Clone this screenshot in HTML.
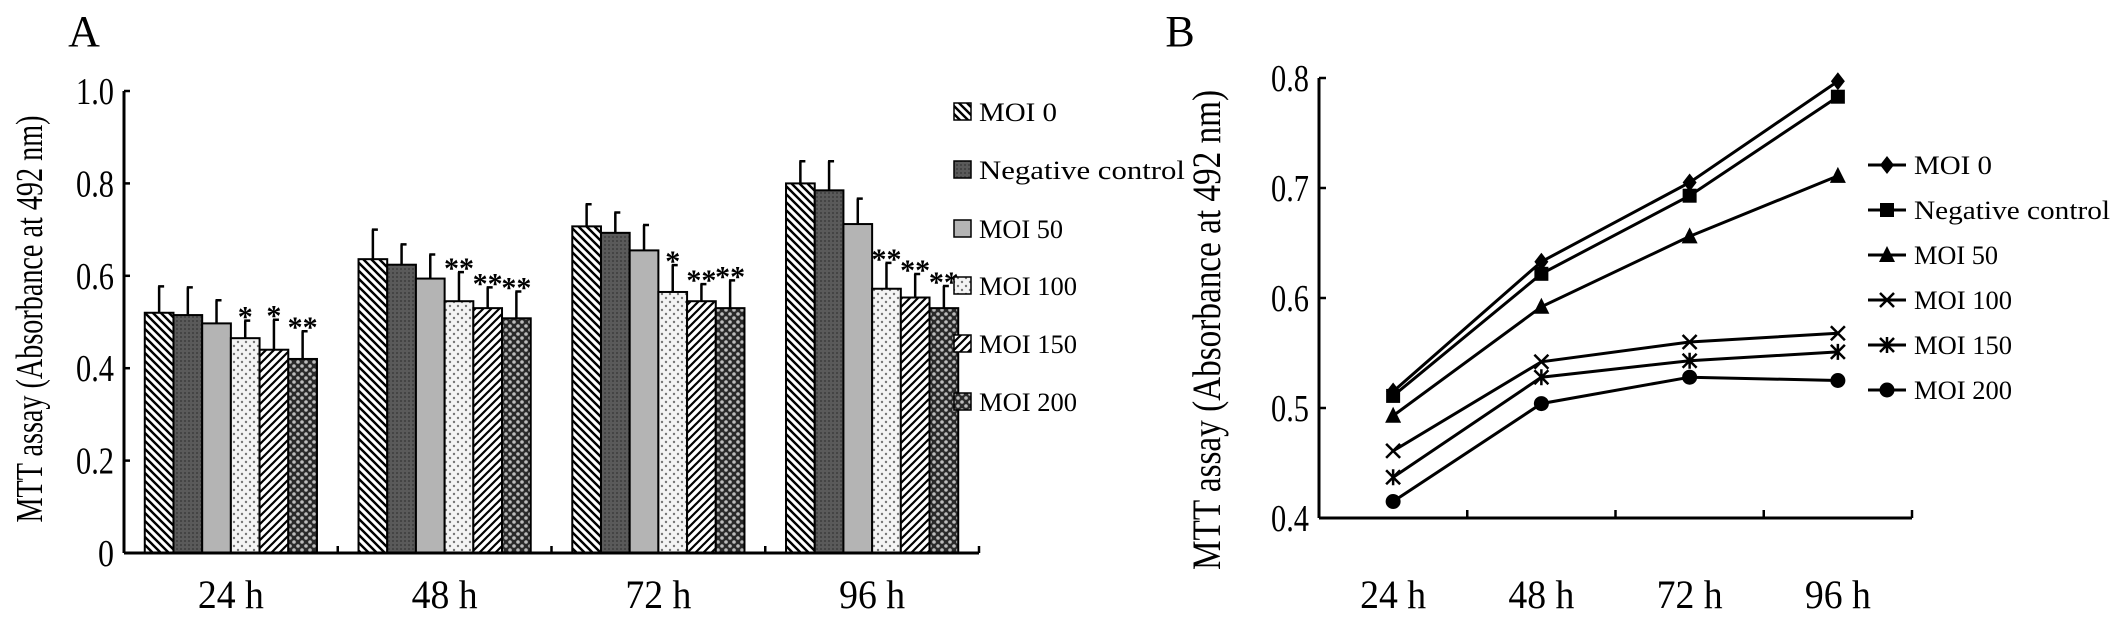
<!DOCTYPE html>
<html><head><meta charset="utf-8"><style>
html,body{margin:0;padding:0;background:#fff;}
svg{display:block;font-family:"Liberation Serif",serif;}
</style></head><body>
<svg id="fig" width="2126" height="623" viewBox="0 0 2126 623" xmlns="http://www.w3.org/2000/svg">
<defs>
<pattern id="p0" width="8" height="8" patternUnits="userSpaceOnUse"><rect width="8" height="8" fill="#fff"/><path d="M-2,-2 L10,10 M-2,6 L2,10 M6,-2 L10,2" stroke="#000" stroke-width="2.4"/></pattern>
<pattern id="p1" width="4" height="4" patternUnits="userSpaceOnUse"><rect width="4" height="4" fill="#5a5a5a"/><rect width="2" height="2" fill="#444"/></pattern>
<pattern id="p2" width="4" height="4" patternUnits="userSpaceOnUse"><rect width="4" height="4" fill="#b4b4b4"/></pattern>
<pattern id="p3" width="8" height="8" patternUnits="userSpaceOnUse"><rect width="8" height="8" fill="#f4f4f4"/><circle cx="2" cy="2" r="1.2" fill="#777"/><circle cx="6" cy="6" r="1.2" fill="#777"/></pattern>
<pattern id="p4" width="8" height="8" patternUnits="userSpaceOnUse"><rect width="8" height="8" fill="#fff"/><path d="M-2,10 L10,-2 M-2,2 L2,-2 M6,10 L10,6" stroke="#000" stroke-width="2.2"/></pattern>
<pattern id="p5" width="8" height="8" patternUnits="userSpaceOnUse"><rect width="8" height="8" fill="#2a2a2a"/><circle cx="2" cy="2" r="1.8" fill="#bbb"/><circle cx="6" cy="6" r="1.8" fill="#bbb"/></pattern>
</defs>
<g id="A"></g>
<g id="B"></g>
</svg>
<script>
// ---- Chart A data ----
const catsA = ["24 h","48 h","72 h","96 h"];
const seriesNamesA = ["MOI 0","Negative control","MOI 50","MOI 100","MOI 150","MOI 200"];
const meanMOI0 = [0.52,0.636,0.707,0.80];
const meanNeg = [0.515,0.624,0.693,0.785];
const meanMOI50 = [0.497,0.594,0.655,0.712];
const meanMOI100 = [0.465,0.545,0.565,0.572];
const meanMOI150 = [0.44,0.53,0.545,0.553];
const meanMOI200 = [0.42,0.508,0.53,0.53];
const errMOI0 = [0.057,0.064,0.048,0.048];
const errNeg = [0.06,0.044,0.044,0.063];
const errMOI50 = [0.05,0.052,0.055,0.055];
const errMOI100 = [0.038,0.063,0.058,0.056];
const errMOI150 = [0.065,0.045,0.037,0.051];
const errMOI200 = [0.06,0.058,0.06,0.048];
const starsA = [["","","","*","*","**"],["","","","**","**","**"],["","","","*","**","**"],["","","","**","**","**"]];
const ticksA = [0,0.2,0.4,0.6,0.8,1.0];
const tickLabelsA = ["0","0.2","0.4","0.6","0.8","1.0"];
// ---- Chart B data ----
const catsB = ["24 h","48 h","72 h","96 h"];
const lineMOI0 = [0.515,0.633,0.705,0.797];
const lineNeg = [0.511,0.622,0.693,0.783];
const lineMOI50 = [0.493,0.592,0.656,0.711];
const lineMOI100 = [0.461,0.542,0.560,0.568];
const lineMOI150 = [0.437,0.528,0.543,0.551];
const lineMOI200 = [0.415,0.504,0.528,0.525];
const ticksB = [0.4,0.5,0.6,0.7,0.8];
const tickLabelsB = ["0.4","0.5","0.6","0.7","0.8"];

const NS="http://www.w3.org/2000/svg";
function mk(parent,tag,attrs,text){const e=document.createElementNS(NS,tag);for(const k in attrs)e.setAttribute(k,attrs[k]);if(text!==undefined)e.textContent=text;parent.appendChild(e);return e;}

// ---- Chart A ----
(function(){
const g=document.getElementById('A');
const x0=124,x1=979,y0=553,yTop=91;
const yA=v=>y0-(v/1.0)*(y0-yTop);
const band=(x1-x0)/catsA.length;
const means=[meanMOI0,meanNeg,meanMOI50,meanMOI100,meanMOI150,meanMOI200];
const errs=[errMOI0,errNeg,errMOI50,errMOI100,errMOI150,errMOI200];
const bw=28.7,pad=(band-bw*6)/2;
let t=mk(g,'text',{x:84,y:46,'font-size':44,'text-anchor':'middle'},'A');

catsA.forEach((c,i)=>{
  for(let s=0;s<6;s++){
    const bx=x0+i*band+pad+s*bw, v=means[s][i];
    const r=mk(g,'rect',{x:bx,y:yA(v),width:bw,height:y0-yA(v),fill:'url(#p'+s+')',stroke:'#000','stroke-width':2});
    
    
    const cx=bx+bw/2, et=yA(v+errs[s][i]);
    const e=mk(g,'path',{d:`M${cx},${yA(v)} V${et} M${cx-1},${et} H${cx+5}`,stroke:'#000','stroke-width':2.5,fill:'none'});
    
    
    if(starsA[i][s]){
      const st=mk(g,'text',{x:cx,y:et+6,'font-size':30,'font-weight':'bold','text-anchor':'middle'},starsA[i][s]);
      
      
    }
  }
  const lb=mk(g,'text',{x:x0+(i+0.5)*band,y:608,'font-size':40,'text-anchor':'middle',textLength:66,lengthAdjust:'spacingAndGlyphs'},c);
  
  
  mk(g,'line',{x1:x0+(i+1)*band,y1:y0,x2:x0+(i+1)*band,y2:y0-7,stroke:'#000','stroke-width':2.5});
});
mk(g,'line',{x1:x0,y1:y0,x2:x1,y2:y0,stroke:'#000','stroke-width':3});
mk(g,'line',{x1:x0,y1:y0,x2:x0,y2:yTop,stroke:'#000','stroke-width':3});
ticksA.forEach((v,k)=>{
  mk(g,'line',{x1:x0,y1:yA(v),x2:x0+6,y2:yA(v),stroke:'#000','stroke-width':2.5});
  const tl=mk(g,'text',{x:x0-10,y:yA(v)+13,'font-size':38,'text-anchor':'end',textLength:k===0?16:38,lengthAdjust:'spacingAndGlyphs'},tickLabelsA[k]);
  
  
});
const yt=mk(g,'text',{x:0,y:0,'font-size':38,'text-anchor':'middle',transform:'translate(42,319) rotate(-90)',textLength:407,lengthAdjust:'spacingAndGlyphs'},'MTT assay (Absorbance at 492 nm)');


const legY=[112,170,229,286,344,402];
const legW=[78,206,84,98,98,98];
seriesNamesA.forEach((n,s)=>{
  const r=mk(g,'rect',{x:954,y:legY[s]-9,width:17,height:17,fill:'url(#p'+s+')',stroke:'#000','stroke-width':1.5});
  
  
  const lt=mk(g,'text',{x:979,y:legY[s]+9,'font-size':26,textLength:legW[s],lengthAdjust:'spacingAndGlyphs'},n);
  
  
});
})();

// ---- Chart B ----
(function(){
const g=document.getElementById('B');
const x0=1319,x1=1912,y0=518,yTop=78;
const yB=v=>y0-(v-0.4)/0.4*(y0-yTop);
const band=(x1-x0)/catsB.length;
const xB=i=>x0+(i+0.5)*band;
let t=mk(g,'text',{x:1180,y:46,'font-size':44,'text-anchor':'middle'},'B');

mk(g,'line',{x1:x0,y1:y0,x2:x1,y2:y0,stroke:'#000','stroke-width':3});
mk(g,'line',{x1:x0,y1:y0,x2:x0,y2:yTop,stroke:'#000','stroke-width':3});
catsB.forEach((c,i)=>{
  mk(g,'line',{x1:x0+(i+1)*band,y1:y0,x2:x0+(i+1)*band,y2:y0-8,stroke:'#000','stroke-width':2.5});
  const lb=mk(g,'text',{x:xB(i),y:608,'font-size':40,'text-anchor':'middle',textLength:66,lengthAdjust:'spacingAndGlyphs'},c);
  
  
});
ticksB.forEach((v,k)=>{
  mk(g,'line',{x1:x0,y1:yB(v),x2:x0+7,y2:yB(v),stroke:'#000','stroke-width':2.5});
  const tl=mk(g,'text',{x:x0-10,y:yB(v)+13,'font-size':38,'text-anchor':'end',textLength:38,lengthAdjust:'spacingAndGlyphs'},tickLabelsB[k]);
  
  
});
const yt=mk(g,'text',{x:0,y:0,'font-size':40,'text-anchor':'middle',transform:'translate(1220,330) rotate(-90)',textLength:480,lengthAdjust:'spacingAndGlyphs'},'MTT assay (Absorbance at 492 nm)');


function marker(par,type,x,y){
  if(type==='diamond')return mk(par,'path',{d:`M${x},${y-9} L${x+7},${y} L${x},${y+9} L${x-7},${y}Z`,fill:'#000'});
  if(type==='square')return mk(par,'rect',{x:x-7,y:y-7,width:14,height:14,fill:'#000'});
  if(type==='triangle')return mk(par,'path',{d:`M${x},${y-9} L${x+8},${y+7} L${x-8},${y+7}Z`,fill:'#000'});
  if(type==='x')return mk(par,'path',{d:`M${x-7},${y-7} L${x+7},${y+7} M${x+7},${y-7} L${x-7},${y+7}`,stroke:'#000','stroke-width':2.5,fill:'none'});
  if(type==='star')return mk(par,'path',{d:`M${x-7},${y-7} L${x+7},${y+7} M${x+7},${y-7} L${x-7},${y+7} M${x},${y-8} V${y+8}`,stroke:'#000','stroke-width':2.5,fill:'none'});
  return mk(par,'circle',{cx:x,cy:y,r:7.5,fill:'#000'});
}
const lines=[lineMOI0,lineNeg,lineMOI50,lineMOI100,lineMOI150,lineMOI200];
const names=["MOI 0","Negative control","MOI 50","MOI 100","MOI 150","MOI 200"];
const legW=[78,196,84,98,98,98];
const mtypes=['diamond','square','triangle','x','star','circle'];
const legY=[165,210,255,300,345,390];
lines.forEach((arr,s)=>{
  const sg=mk(g,'g',{});
  
  
  const d=arr.map((v,i)=>(i?'L':'M')+xB(i)+','+yB(v)).join(' ');
  mk(sg,'path',{d:d,fill:'none',stroke:'#000','stroke-width':3});
  arr.forEach((v,i)=>{
    const m=marker(sg,mtypes[s],xB(i),yB(v));
    
    
  });
  mk(g,'line',{x1:1868,y1:legY[s],x2:1906,y2:legY[s],stroke:'#000','stroke-width':3});
  marker(g,mtypes[s],1887,legY[s]);
  const lt=mk(g,'text',{x:1914,y:legY[s]+9,'font-size':26,textLength:legW[s],lengthAdjust:'spacingAndGlyphs'},names[s]);
  
  
});
})();
</script>
</body></html>
